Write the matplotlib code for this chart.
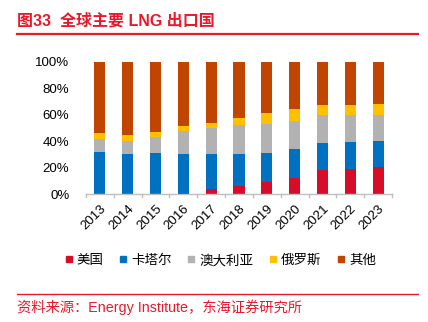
import matplotlib
matplotlib.use("Agg")
import matplotlib.pyplot as plt
import numpy as np
from matplotlib.lines import Line2D

plt.rcParams['font.family'] = ['Noto Sans CJK SC', 'DejaVu Sans']

years = ['2013', '2014', '2015', '2016', '2017', '2018', '2019', '2020', '2021', '2022', '2023']
usa = [0.0, 0.0, 0.0, 0.7, 4.0, 6.3, 9.3, 12.4, 17.9, 19.2, 20.5]
qatar = [32.0, 30.5, 31.3, 29.8, 26.3, 24.2, 22.0, 21.4, 20.7, 20.2, 19.9]
australia = [9.4, 9.9, 11.7, 17.0, 19.4, 21.5, 21.7, 21.8, 21.0, 20.2, 19.4]
russia = [4.6, 4.0, 4.2, 4.0, 4.3, 5.8, 8.0, 8.5, 7.8, 7.8, 8.1]
series_names = ['美国', '卡塔尔', '澳大利亚', '俄罗斯', '其他']
colors = ['#D70C28', '#0070C0', '#B2B2B2', '#FFC000', '#C04600']

others = [100 - a - b - c - d for a, b, c, d in zip(usa, qatar, australia, russia)]
data = [usa, qatar, australia, russia, others]

fig = plt.figure(figsize=(4.28, 3.22), dpi=100)
ax = fig.add_axes([0.2009, 0.3975, 0.715, 0.41])

x = np.arange(len(years))
bottom = np.zeros(len(years))
for vals, col in zip(data, colors):
    v = np.array(vals) / 100.0
    ax.bar(x, v, bottom=bottom, width=0.4, color=col, edgecolor='none', zorder=2)
    bottom += v

ax.set_xlim(-0.5, len(years) - 0.5)
ax.set_ylim(0, 1)
ax.set_yticks(np.linspace(0, 1, 6))
ax.set_yticklabels([f'{int(t*100)}%' for t in np.linspace(0, 1, 6)], fontsize=9.5,
                   family=['Liberation Sans', 'DejaVu Sans'])
ax.tick_params(axis='y', length=0, pad=12)
ax.set_xticks(x)
ax.set_xticklabels(years, rotation=45, ha='right', va='top', rotation_mode='anchor',
                   fontsize=9.5, family=['Liberation Sans', 'DejaVu Sans'])
ax.tick_params(axis='x', length=0, pad=6)
for b in np.arange(-0.5, len(years) + 0.5, 1.0):
    ax.plot([b, b], [0, -0.025], color='#BFBFBF', lw=1, clip_on=False, zorder=3)
for s in ['top', 'right', 'left']:
    ax.spines[s].set_visible(False)
ax.spines['bottom'].set_color('#BFBFBF')
ax.spines['bottom'].set_linewidth(1)

handles = [Line2D([0], [0], marker='s', linestyle='none', markersize=5,
                  markerfacecolor=c, markeredgecolor=c) for c in colors]
fig.legend(handles, series_names, loc='center', bbox_to_anchor=(0.515, 0.192), ncol=5,
           frameon=False, fontsize=9.7, handlelength=0.6, handletextpad=0.3,
           columnspacing=1.15)

red = '#E8192C'
fig.text(0.04, 0.935, '图33  全球主要 LNG 出口国', color=red, fontsize=11.5,
         fontweight='bold', va='center', ha='left',
         family=['Liberation Sans', 'Noto Sans CJK SC'])
fig.add_artist(Line2D([0.04, 0.977], [0.895, 0.895], color=red, lw=1.6,
                      transform=fig.transFigure))
fig.add_artist(Line2D([0.04, 0.977], [0.087, 0.087], color=red, lw=1.0,
                      transform=fig.transFigure))
fig.text(0.04, 0.046, '资料来源：Energy Institute，东海证券研究所', color=red, fontsize=10.3,
         va='center', ha='left', family=['Liberation Sans', 'Noto Sans CJK SC'])

fig.savefig('out.png', dpi=100)
